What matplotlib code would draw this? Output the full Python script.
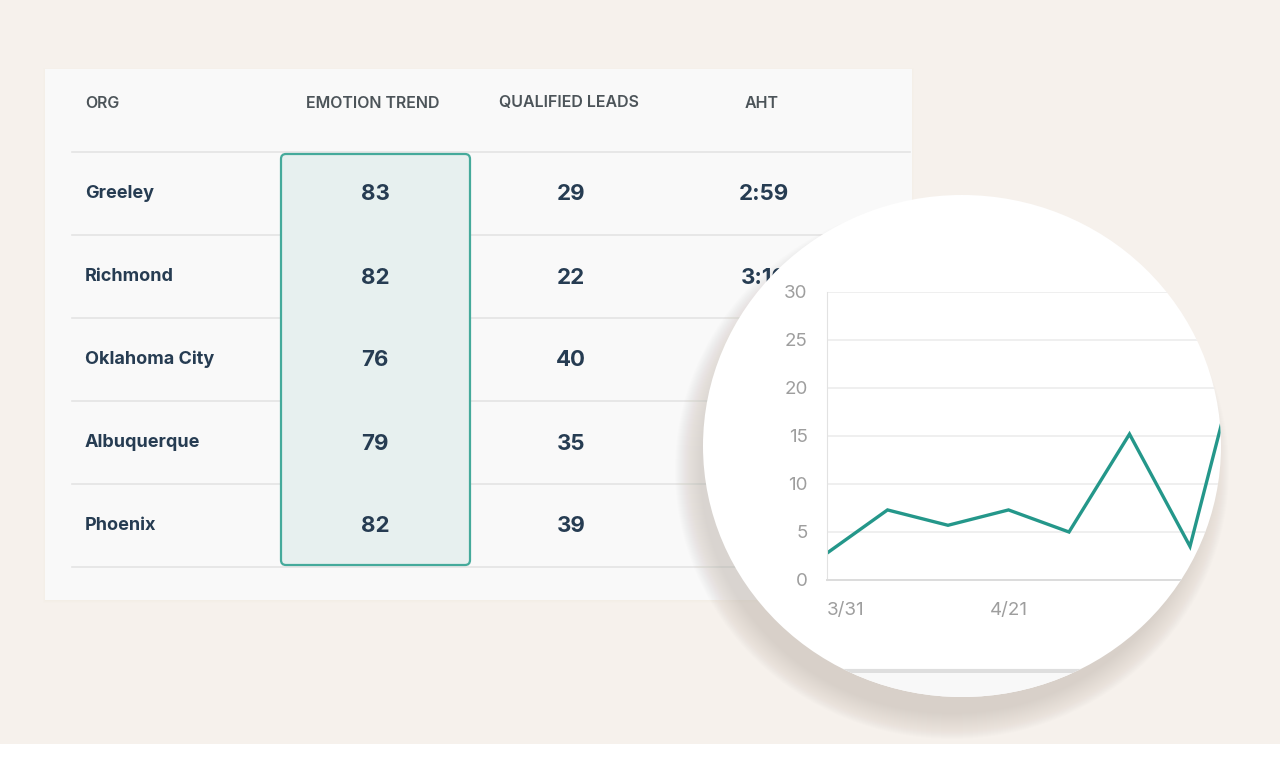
import matplotlib
matplotlib.use("Agg")
import matplotlib.pyplot as plt
from matplotlib.patches import Rectangle, Ellipse, FancyBboxPatch

# table data
columns = ['ORG', 'EMOTION TREND', 'QUALIFIED LEADS', 'AHT']
orgs = ['Greeley', 'Richmond', 'Oklahoma City', 'Albuquerque', 'Phoenix']
emotion = [83, 82, 76, 79, 82]
leads = [29, 22, 40, 35, 39]
aht = ['2:59', '3:10', '3:05', '2:50', '3:00']

# zoomed trend chart data (weekly)
weeks = ['3/31', '4/7', '4/14', '4/21', '4/28', '5/5', '5/12', '5/19']
trend = [2.8, 7.3, 5.7, 7.3, 5.0, 15.2, 3.5, 28.0]
yticks = [0, 5, 10, 15, 20, 25, 30]
xtick_idx = [0, 3]

BG = '#f6f1ec'
CARD = '#f9f9f9'
INK = '#263c52'
HEAD = '#4c5459'
TEAL = '#24978a'
GRID = '#ececec'
LABEL = '#9e9e9e'

W, H = 1280, 758
fig = plt.figure(figsize=(W / 100, H / 100), dpi=100)
fig.patch.set_facecolor(BG)

ax = fig.add_axes([0, 0, 1, 1])
ax.set_xlim(0, W)
ax.set_ylim(H, 0)
ax.axis('off')

# white strip at the bottom
ax.add_patch(Rectangle((0, 744), W, H - 744, facecolor='white', edgecolor='none'))

# table card with faint shadow
for i in range(3):
    ax.add_patch(Rectangle((45 - i, 69 - i + 1), 867 + 2 * i, 531 + 2 * i,
                           facecolor='#c8beb4', alpha=0.02, edgecolor='none'))
ax.add_patch(Rectangle((45, 69), 867, 531, facecolor=CARD, edgecolor='none'))

top = 152
row_h = 83
col_x = [85, 375, 571, 764]

# highlighted column
ax.add_patch(FancyBboxPatch((281, top + 2), 189, row_h * 5 - 4,
                            boxstyle='round,pad=0,rounding_size=5',
                            facecolor='#e7f0ef', edgecolor='#45aa9b', lw=1.6, zorder=2))

# row separators
for i in range(6):
    ax.plot([72, 910], [top + row_h * i] * 2, color='#e4e4e4', lw=1.2, zorder=1)

# header
ax.text(col_x[0], 103, columns[0], ha='left', va='center', fontsize=11.5,
        fontfamily='Inter', fontweight='semibold', color=HEAD)
for x, c in zip(col_x[1:], columns[1:]):
    ax.text(x - 2, 103, c, ha='center', va='center', fontsize=11.5,
            fontfamily='Inter', fontweight='semibold', color=HEAD)

# rows
for i, org in enumerate(orgs):
    yc = top + row_h * (i + 0.5)
    ax.text(col_x[0], yc, org, ha='left', va='center', fontsize=13,
            fontfamily='Inter', fontweight='bold', color=INK, zorder=3)
    for x, v in zip(col_x[1:], [emotion[i], leads[i], aht[i]]):
        ax.text(x, yc + 1, str(v), ha='center', va='center', fontsize=16,
                fontfamily='Inter', fontweight='bold', color=INK, zorder=3)

# magnifier circle with soft shadow below-left
cx, cy, cw, ch = 962, 446, 518, 502
for i in range(26):
    ax.add_patch(Ellipse((cx - 10, cy + 24), cw - 14 + 2 * i, ch - 14 + 2 * i,
                         facecolor='#6f655c', alpha=0.0075, edgecolor='none', zorder=4))
circle = Ellipse((cx, cy), cw, ch, facecolor='white', edgecolor='none', zorder=5)
ax.add_patch(circle)

# card bottom edge seen inside the circle
edge = ax.plot([700, 1230], [671, 671], color='#dedede', lw=3, zorder=6)[0]
edge.set_clip_path(circle)
below = ax.add_patch(Rectangle((700, 673), 530, 40, facecolor='#f8f8f8',
                               edgecolor='none', zorder=6))
below.set_clip_path(circle)

# inset trend chart
x0_px, y0_px = 827, 580
step = 60.5
unit = 9.6
xmax = 7.5
cax = fig.add_axes([x0_px / W, (H - y0_px) / H, xmax * step / W, 30 * unit / H])
cax.set_facecolor('none')
cax.set_xlim(0, xmax)
cax.set_ylim(0, 30)
cax.set_zorder(10)

for v in yticks[1:]:
    g = cax.axhline(v, color=GRID, lw=1.2)
    g.set_clip_path(circle)

line, = cax.plot(range(len(trend)), trend, color=TEAL, lw=2.4,
                 solid_joinstyle='miter')
line.set_clip_path(circle)

for s in ['top', 'right']:
    cax.spines[s].set_visible(False)
cax.spines['left'].set_color('#e2e2e2')
cax.spines['bottom'].set_color('#dcdcdc')
cax.spines['bottom'].set_linewidth(1.4)
cax.spines['bottom'].set_clip_path(circle)

cax.set_yticks(yticks)
cax.set_yticklabels([str(v) for v in yticks])
cax.set_xticks(xtick_idx)
cax.set_xticklabels([weeks[i] for i in xtick_idx])
cax.tick_params(axis='both', length=0, labelsize=13.5, labelcolor=LABEL)
cax.tick_params(axis='y', pad=14)
cax.tick_params(axis='x', pad=16)
for lbl in cax.get_xticklabels() + cax.get_yticklabels():
    lbl.set_fontfamily('Inter')
cax.get_xticklabels()[0].set_horizontalalignment('left')

fig.savefig('out.png', dpi=100, facecolor=fig.get_facecolor())
